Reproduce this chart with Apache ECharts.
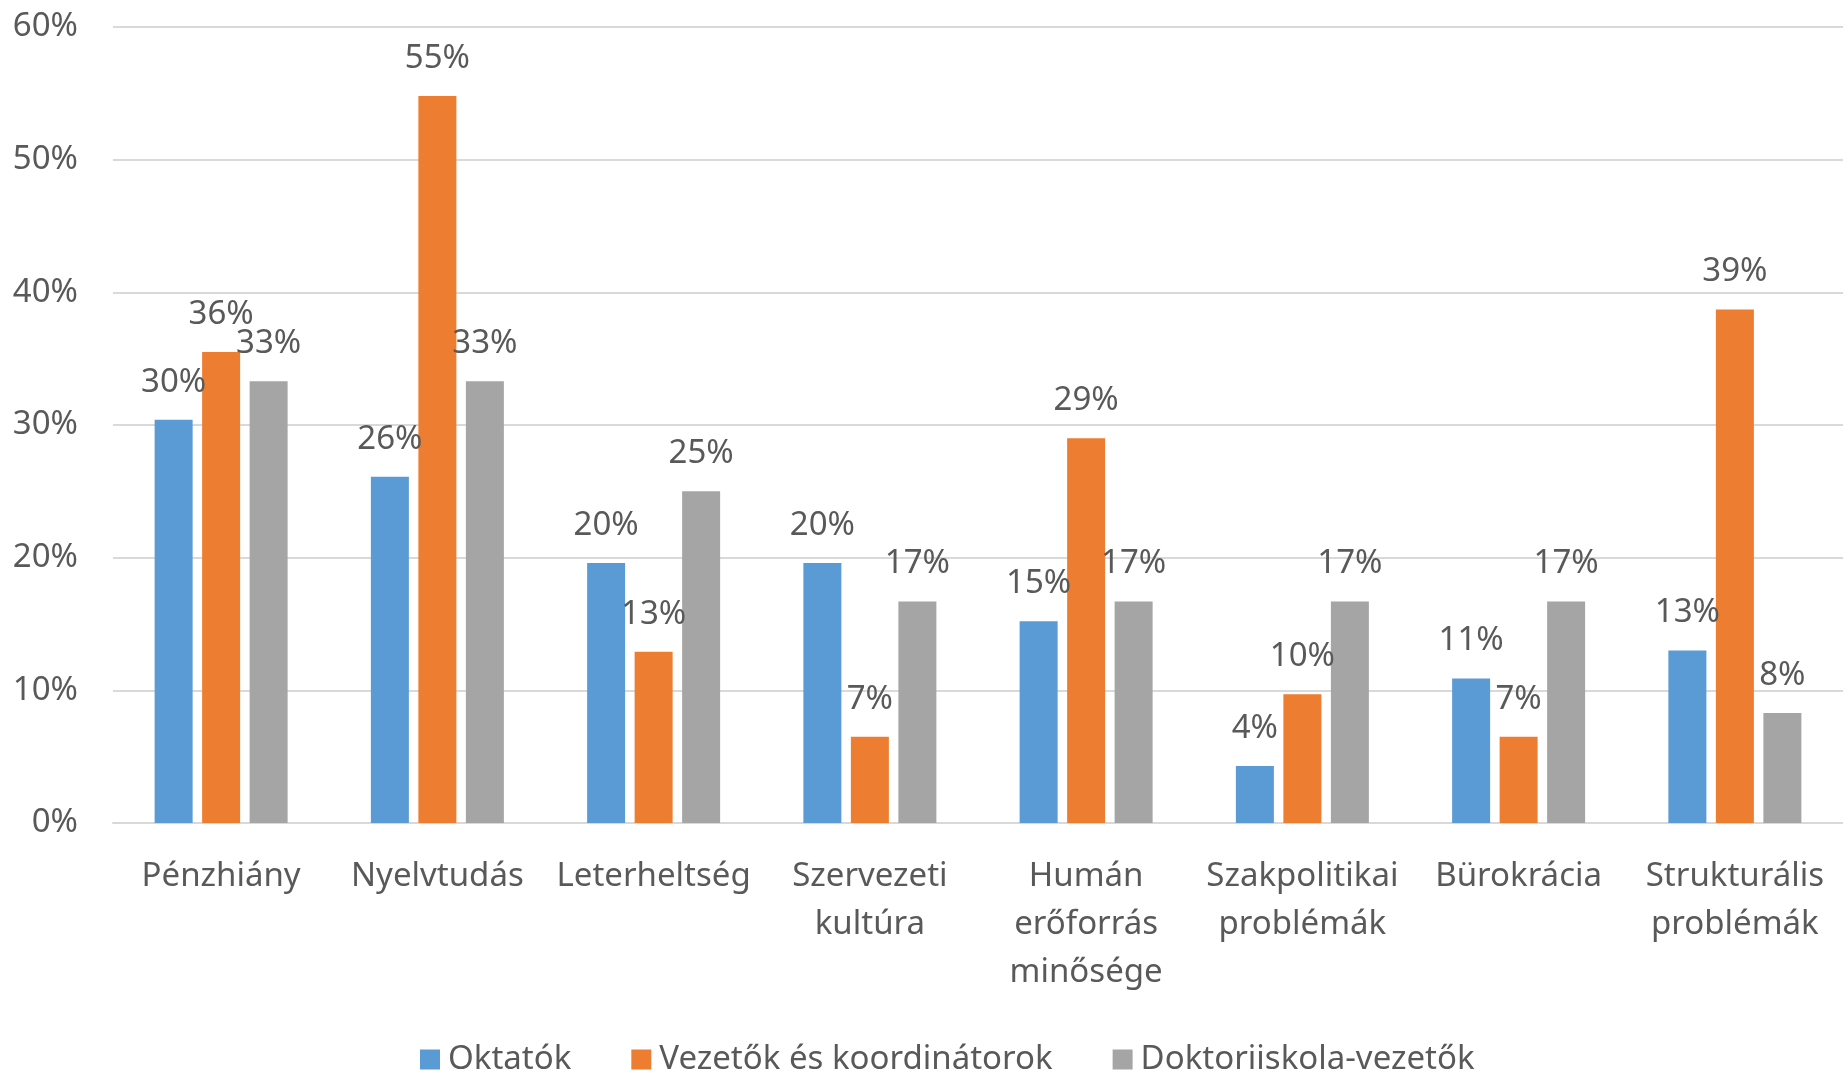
<!DOCTYPE html>
<html>
<head>
<meta charset="utf-8">
<script src="https://cdn.jsdelivr.net/npm/echarts@6/dist/echarts.min.js"></script>
<style>
  html, body { margin: 0; padding: 0; background: #fff; }
  #chart { width: 1843px; height: 1074px; }
</style>
</head>
<body>
<div id="chart"></div>
<script>
// adatok (százalék)
var categories = ['Pénzhiány', 'Nyelvtudás', 'Leterheltség', 'Szervezeti\nkultúra', 'Humán\nerőforrás\nminősége',
    'Szakpolitikai\nproblémák', 'Bürokrácia', 'Strukturális\nproblémák'];
var seriesNames = ['Oktatók', 'Vezetők és koordinátorok', 'Doktoriiskola-vezetők'];
var oktatok = [30.4, 26.1, 19.6, 19.6, 15.2, 4.3, 10.9, 13.0];
var vezetok = [35.5, 54.8, 12.9, 6.5, 29.0, 9.7, 6.5, 38.7];
var doktori = [33.3, 33.3, 25.0, 16.7, 16.7, 16.7, 16.7, 8.3];
var yTicks = { min: 0, max: 60, interval: 10 };

var colors = ['#5b9bd5', '#ed7d31', '#a5a5a5'];
var txt = '#595959';
var fontFam = "'Segoe UI', 'Noto Sans', sans-serif";

var myChart = echarts.init(document.getElementById('chart'));

function makeSeries(name, data, idx) {
    return {
        name: name,
        type: 'bar',
        barWidth: 38,
        barGap: '25%',
        itemStyle: { color: colors[idx] },
        label: {
            show: true,
            position: 'top',
            distance: 21,
            color: txt,
            fontSize: 33,
            fontFamily: fontFam,
            formatter: function (p) {
                return Math.round(p.value) + '%';
            }
        },
        data: data
    };
}

var option = {
    backgroundColor: '#fff',
    animation: false,
    textStyle: { fontFamily: fontFam },
    color: colors,
    grid: {
        left: 113,
        top: 27,
        width: 1739,
        height: 796,
        containLabel: false
    },
    legend: {
        left: 415,
        top: 1038,
        itemWidth: 20,
        itemHeight: 20,
        itemGap: 60,
        icon: 'rect',
        textStyle: {
            color: txt,
            fontSize: 33,
            fontFamily: fontFam,
            padding: [0, 0, 0, 3]
        },
        data: seriesNames
    },
    xAxis: {
        type: 'category',
        data: categories,
        axisLine: { show: true, lineStyle: { color: '#d9d9d9', width: 2 } },
        axisTick: { show: false },
        axisLabel: {
            interval: 0,
            margin: 30,
            color: txt,
            fontSize: 33,
            lineHeight: 48,
            fontFamily: fontFam
        }
    },
    yAxis: {
        type: 'value',
        min: yTicks.min,
        max: yTicks.max,
        interval: yTicks.interval,
        axisLine: { show: false },
        axisTick: { show: false },
        splitLine: { lineStyle: { color: '#d9d9d9', width: 2 } },
        axisLabel: {
            margin: 35,
            color: txt,
            fontSize: 33,
            fontFamily: fontFam,
            formatter: '{value}%'
        }
    },
    series: [
        makeSeries(seriesNames[0], oktatok, 0),
        makeSeries(seriesNames[1], vezetok, 1),
        makeSeries(seriesNames[2], doktori, 2)
    ]
};
myChart.setOption(option);
</script>
</body>
</html>
